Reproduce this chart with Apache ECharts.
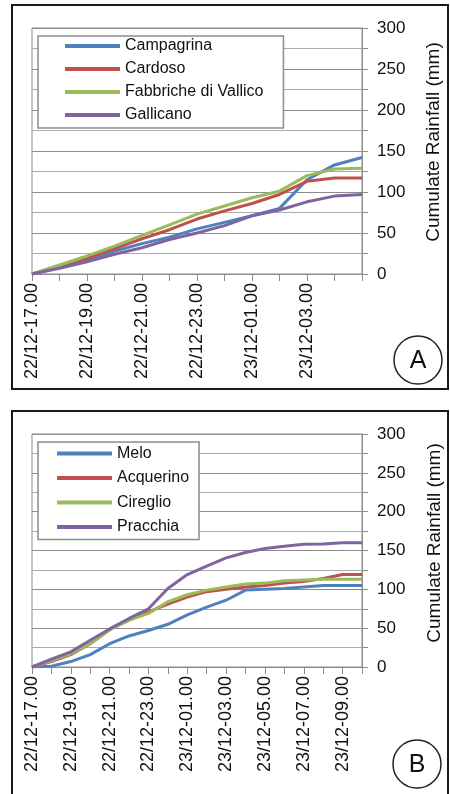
<!DOCTYPE html>
<html>
<head>
<meta charset="utf-8">
<script src="https://cdn.jsdelivr.net/npm/echarts@6/dist/echarts.min.js"></script>
<style>
  html, body { margin: 0; padding: 0; background: #fff; }
  #chart { width: 450px; height: 794px; }
</style>
</head>
<body>
<div id="chart"></div>
<script>
// Hourly time stamps (day/month-hour)
const hoursA = ['22/12-17.00','22/12-18.00','22/12-19.00','22/12-20.00','22/12-21.00','22/12-22.00',
  '22/12-23.00','23/12-00.00','23/12-01.00','23/12-02.00','23/12-03.00','23/12-04.00','23/12-05.00'];
const hoursB = ['22/12-17.00','22/12-18.00','22/12-19.00','22/12-20.00','22/12-21.00','22/12-22.00',
  '22/12-23.00','23/12-00.00','23/12-01.00','23/12-02.00','23/12-03.00','23/12-04.00','23/12-05.00',
  '23/12-06.00','23/12-07.00','23/12-08.00','23/12-09.00','23/12-10.00'];

// Panel A stations (cumulate rainfall, mm)
const namesA = ['Campagrina', 'Cardoso', 'Fabbriche di Vallico', 'Gallicano'];
const campagrina = [0, 8, 17, 28, 37, 45, 55, 63, 71, 80, 115, 133, 142];
const cardoso    = [0, 9, 19, 31, 43, 54, 67, 77, 86, 97, 113, 117, 117];
const fabbriche  = [0, 11, 22, 34, 47, 60, 73, 83, 93, 101, 120, 128, 129];
const gallicano  = [0, 7, 15, 24, 32, 42, 50, 59, 71, 78, 88, 95, 97];

// Panel B stations (cumulate rainfall, mm)
const namesB = ['Melo', 'Acquerino', 'Cireglio', 'Pracchia'];
const melo      = [0, 1, 7, 16, 30, 40, 47, 55, 67, 77, 86, 99, 100, 101, 103, 105, 105, 105];
const acquerino = [0, 7, 16, 30, 48, 61, 71, 81, 90, 97, 100, 103, 105, 108, 110, 114, 119, 119];
const cireglio  = [0, 8, 17, 30, 48, 60, 69, 84, 93, 99, 103, 107, 108, 111, 112, 113, 113, 113];
const pracchia  = [0, 10, 19.5, 34.5, 49, 62.5, 75, 101, 119, 130, 140.5, 147.5, 152.5, 155.5, 158, 158.5, 160, 160];

const yTicks = { min: 0, max: 300, interval: 50 };

const FONT = '"Liberation Sans", Arial, sans-serif';
const COLORS = ['#4F81BD', '#C0504D', '#9BBB59', '#8064A2'];
const GRID = '#8c8c8c';
const MINOR = '#ababab';
const INK = '#111';

function xAxisFor(idx, cats, hideLast) {
  return {
    type: 'category', gridIndex: idx, data: cats, boundaryGap: false,
    axisLine: { lineStyle: { color: GRID, width: 1 } },
    axisTick: { show: true, interval: 0, length: 7, lineStyle: { color: GRID } },
    axisLabel: {
      rotate: 90, interval: 1, margin: 9, fontSize: 18, fontFamily: FONT, color: INK,
      formatter: (v, i) => (hideLast && i === cats.length - 1) ? '' : v
    },
    splitLine: { show: false }
  };
}

function yAxisFor(idx) {
  return {
    type: 'value', gridIndex: idx, position: 'right',
    min: yTicks.min, max: yTicks.max, interval: yTicks.interval,
    axisLine: { show: true, lineStyle: { color: GRID, width: 1 } },
    axisTick: { show: true, length: 6, lineStyle: { color: GRID } },
    minorTick: { show: true, splitNumber: 2, length: 6, lineStyle: { color: GRID } },
    splitLine: { show: true, lineStyle: { color: GRID, width: 1 } },
    minorSplitLine: { show: true, lineStyle: { color: MINOR, width: 1 } },
    axisLabel: { margin: 15, fontSize: 17, fontFamily: FONT, color: INK, align: 'left' }
  };
}

function legendFor(names, left, top, pad, lineH, gap) {
  return {
    data: names, orient: 'vertical', left: left, top: top,
    icon: 'rect', itemWidth: 55, itemHeight: 4, itemGap: gap,
    padding: pad, backgroundColor: '#fff', borderColor: GRID, borderWidth: 1.5,
    selectedMode: false,
    textStyle: { fontSize: 16, lineHeight: lineH, fontFamily: FONT, color: INK }
  };
}

function lineSeries(name, data, axis, color) {
  return {
    name: name, type: 'line', data: data, xAxisIndex: axis, yAxisIndex: axis,
    symbol: 'none', smooth: false,
    lineStyle: { width: 3, color: color }, itemStyle: { color: color }
  };
}

const chart = echarts.init(document.getElementById('chart'), null, { renderer: 'canvas' });
chart.setOption({
  animation: false,
  backgroundColor: '#fff',
  grid: [
    { left: 32, top: 28, width: 330, height: 246, show: true, borderColor: GRID, borderWidth: 1 },
    { left: 32, top: 434, width: 330, height: 233, show: true, borderColor: GRID, borderWidth: 1 }
  ],
  xAxis: [xAxisFor(0, hoursA, true), xAxisFor(1, hoursB, false)],
  yAxis: [yAxisFor(0), yAxisFor(1)],
  legend: [
    legendFor(namesA, 38, 36, [1, 20, 4, 27], 18, 5),
    legendFor(namesB, 38, 442, [2, 10, 3, 19], 19, 5.5)
  ],
  series: [
    lineSeries(namesA[0], campagrina, 0, COLORS[0]),
    lineSeries(namesA[1], cardoso, 0, COLORS[1]),
    lineSeries(namesA[2], fabbriche, 0, COLORS[2]),
    lineSeries(namesA[3], gallicano, 0, COLORS[3]),
    lineSeries(namesB[0], melo, 1, COLORS[0]),
    lineSeries(namesB[1], acquerino, 1, COLORS[1]),
    lineSeries(namesB[2], cireglio, 1, COLORS[2]),
    lineSeries(namesB[3], pracchia, 1, COLORS[3])
  ],
  graphic: [
    // panel frames
    { type: 'rect', shape: { x: 12, y: 5, width: 436, height: 384 },
      style: { fill: 'none', stroke: '#1a1a1a', lineWidth: 2 }, silent: true },
    { type: 'rect', shape: { x: 12, y: 411, width: 436, height: 400 },
      style: { fill: 'none', stroke: '#1a1a1a', lineWidth: 2 }, silent: true },
    // axis titles
    { type: 'text', x: 434, y: 142, rotation: Math.PI / 2,
      style: { text: 'Cumulate Rainfall (mm)', fontSize: 19, fontFamily: FONT, fill: INK,
               align: 'center', verticalAlign: 'middle' } },
    { type: 'text', x: 435, y: 543, rotation: Math.PI / 2,
      style: { text: 'Cumulate Rainfall (mm)', fontSize: 19, fontFamily: FONT, fill: INK,
               align: 'center', verticalAlign: 'middle' } },
    // panel badges
    { type: 'circle', shape: { cx: 418, cy: 360, r: 24 },
      style: { fill: '#fff', stroke: '#222', lineWidth: 1.5 } },
    { type: 'text', x: 418, y: 361,
      style: { text: 'A', fontSize: 25, fontFamily: FONT, fill: INK, align: 'center', verticalAlign: 'middle' } },
    { type: 'circle', shape: { cx: 417, cy: 764, r: 24 },
      style: { fill: '#fff', stroke: '#222', lineWidth: 1.5 } },
    { type: 'text', x: 417, y: 765,
      style: { text: 'B', fontSize: 25, fontFamily: FONT, fill: INK, align: 'center', verticalAlign: 'middle' } }
  ]
});
</script>
</body>
</html>
